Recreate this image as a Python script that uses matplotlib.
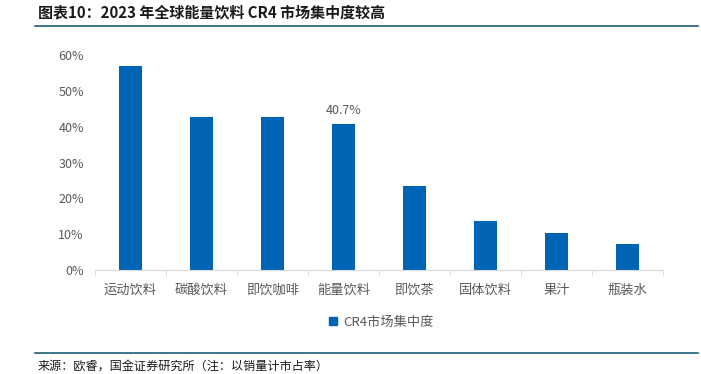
import matplotlib.pyplot as plt
from matplotlib.lines import Line2D
from matplotlib.ticker import PercentFormatter

plt.rcParams['font.family'] = ['Noto Sans CJK SC', 'DejaVu Sans']

# 数据
categories = ['运动饮料', '碳酸饮料', '即饮咖啡', '能量饮料', '即饮茶', '固体饮料', '果汁', '瓶装水']
cr4 = [57.0, 42.8, 42.8, 40.7, 23.5, 13.6, 10.3, 7.2]
labelled = {3: '40.7%'}

bar_color = '#0064B4'
text_color = '#595959'

fig = plt.figure(figsize=(7.01, 3.74), dpi=100)
ax = fig.add_axes([95 / 701, 1 - 270 / 374, 568 / 701, 215 / 374])

x = range(len(categories))
ax.bar(x, cr4, width=0.33, color=bar_color)
for i, txt in labelled.items():
    ax.text(i, cr4[i] + 2.0, txt, ha='center', va='bottom', fontsize=9, color=text_color)

ax.set_xlim(-0.5, len(categories) - 0.5)
ax.set_ylim(0, 60)
ax.set_yticks(range(0, 61, 10))
ax.yaxis.set_major_formatter(PercentFormatter(decimals=0))
ax.set_xticks(list(x))
ax.set_xticklabels(categories)
ax.set_xticks([i + 0.5 for i in range(-1, len(categories))], minor=True)

for s in ['top', 'right', 'left']:
    ax.spines[s].set_visible(False)
ax.spines['bottom'].set_color('#D9D9D9')
ax.tick_params(axis='y', length=0, pad=8, labelsize=9, labelcolor=text_color)
ax.tick_params(axis='x', which='major', length=0, pad=10, labelsize=9.5, labelcolor=text_color)
ax.tick_params(axis='x', which='minor', length=4, color='#D9D9D9', direction='out')

# 图例
handle = Line2D([], [], marker='s', linestyle='none', color=bar_color, markersize=6)
fig.legend([handle], ['CR4市场集中度'], loc='center', bbox_to_anchor=(377 / 701, 1 - 322 / 374),
           frameon=False, fontsize=9.5, handletextpad=-0.2, labelcolor=text_color)

# 标题与来源
fig.text(38 / 701, 1 - 13 / 374, '图表10：2023 年全球能量饮料 CR4 市场集中度较高', fontsize=10.8,
         fontweight='bold', style='italic', color='#1A1A1A', va='center', ha='left')
fig.add_artist(Line2D([35 / 701, 698 / 701], [1 - 26 / 374] * 2, color='#1F5C7A', lw=1.2))
fig.add_artist(Line2D([35 / 701, 698 / 701], [1 - 353 / 374] * 2, color='#1F5C7A', lw=1.2))
fig.text(38 / 701, 1 - 366 / 374, '来源：欧睿，国金证券研究所（注：以销量计市占率）', fontsize=8.7,
         color='#1A1A1A', va='center', ha='left')

fig.savefig('out.png', dpi=100)
